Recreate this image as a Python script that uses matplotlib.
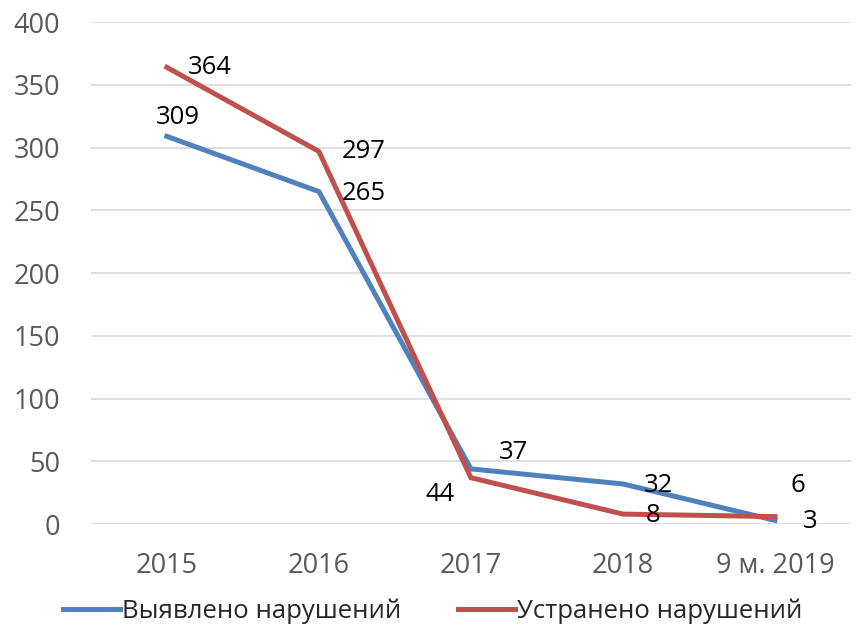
import matplotlib.pyplot as plt

# данные с графика
years = ['2015', '2016', '2017', '2018', '9 м. 2019']
vyyavleno = [309, 265, 44, 32, 3]
ustraneno = [364, 297, 37, 8, 6]
y_ticks = [0, 50, 100, 150, 200, 250, 300, 350, 400]

# смещения подписей (в пикселях) относительно точек
off_blue = [(11, 19), (45, -2), (-31, -26), (35, -2), (35, -1)]
off_red = [(43, 0), (45, 0), (43, 25), (30, -1), (23, 31)]

BLUE = '#4F81BD'
RED = '#C0504D'
GRAY = '#595959'

plt.rcParams['font.family'] = ['Open Sans', 'DejaVu Sans']

fig = plt.figure(figsize=(8.57, 6.33), dpi=100)
ax = fig.add_axes([0.106, 0.172, 0.887, 0.793])

x = list(range(len(years)))
ax.plot(x, vyyavleno, color=BLUE, lw=3.6, label='Выявлено нарушений', solid_joinstyle='miter')
ax.plot(x, ustraneno, color=RED, lw=3.6, label='Устранено нарушений', solid_joinstyle='miter')

for i in x:
    ax.annotate(str(vyyavleno[i]), (i, vyyavleno[i]), xytext=off_blue[i],
                textcoords='offset pixels', ha='center', va='center',
                fontsize=18.5, color='black')
    ax.annotate(str(ustraneno[i]), (i, ustraneno[i]), xytext=off_red[i],
                textcoords='offset pixels', ha='center', va='center',
                fontsize=18.5, color='black')

ax.set_xlim(-0.5, len(years) - 0.5)
ax.set_ylim(0, 400)
ax.set_yticks(y_ticks)
ax.set_xticks(x)
ax.set_xticklabels(years)
ax.tick_params(axis='both', length=0, labelsize=19.5, labelcolor=GRAY)
ax.tick_params(axis='y', pad=22)
ax.tick_params(axis='x', pad=20)
ax.grid(axis='y', color='#D9D9D9', lw=1.2)
ax.set_axisbelow(True)
for s in ax.spines.values():
    s.set_visible(False)

fig.legend(loc='lower center', bbox_to_anchor=(0.505, -0.022), ncol=2, frameon=False,
           fontsize=18.5, handlelength=2.2, handletextpad=0.1, columnspacing=2.2,
           labelcolor='#262626')

fig.savefig('out.png', dpi=100)
